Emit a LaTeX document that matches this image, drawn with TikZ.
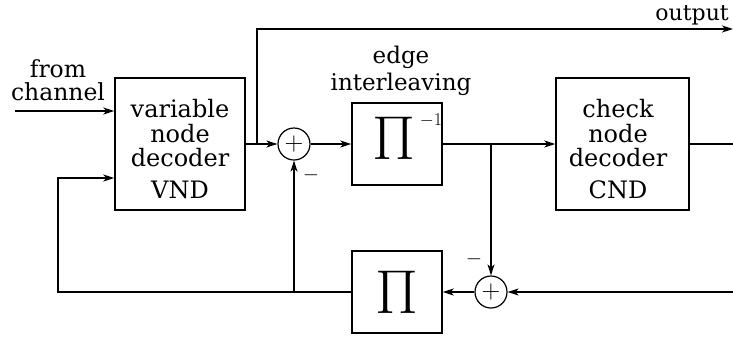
\RequirePackage{fix-cm}
\documentclass[tikz,border=0pt]{standalone}
\usepackage{fontspec}
\setmainfont{DejaVu Serif}
\usetikzlibrary{arrows.meta,calc}
\begin{document}
\begin{tikzpicture}[x=1pt,y=-1pt,
  blk/.style={draw,line width=1.4pt,inner sep=0pt},
  txt/.style={align=center,inner sep=0pt,font=\fontsize{24}{24.5}\selectfont},
  sumnode/.style={draw,circle,line width=1.2pt,minimum size=32pt,inner sep=0pt,font=\fontsize{26}{26}\selectfont},
  bigpi/.style={inner sep=0pt,font=\fontsize{62}{62}\selectfont},
  minus/.style={inner sep=0pt,font=\fontsize{21}{21}\selectfont},
  conn/.style={line width=1.3pt},
  arr/.style={conn,-{Stealth[length=11pt,width=7pt,inset=3pt]}}]
\useasboundingbox (0,0) rectangle (733,338);

% blocks
\node[blk,minimum width=130pt,minimum height=132pt] (vnd) at (180,144) {};
\node[txt] (vndtext) at (180,149) {variable\\node\\decoder\\[7pt]VND};
\node[blk,minimum width=133pt,minimum height=132pt] (cnd) at (622.5,144) {};
\node[txt] (cndtext) at (618,149) {check\\node\\decoder\\[7pt]CND};
\node[blk,minimum width=90pt,minimum height=82pt] (pinv) at (397,144) {};
\node[bigpi] (pinvsym) at (394,138.5) {$\Pi$};
\node[inner sep=0pt,font=\fontsize{18}{18}\selectfont] (pinvexp) at (431,120) {$-1$};
\node[blk,minimum width=90pt,minimum height=82pt,bigpi] (pi) at (397,292) {$\Pi$};

% adders
\node[sumnode] (add1) at (294,144) {$+$};
\node[sumnode] (add2) at (491,292) {$+$};
\node[minus] (m1) at (311,175) {$-$};
\node[minus] (m2) at (474,259) {$-$};

% labels
\node[txt,anchor=south,font=\fontsize{23.5}{23}\selectfont] (from) at (58,101) {from\\channel};
\node[txt,anchor=south,font=\fontsize{23}{27}\selectfont] (edge) at (401,96) {edge\\interleaving};
\node[txt,anchor=base east,font=\fontsize{22}{22}\selectfont] (outlbl) at (729,20) {output};

% coordinates
\coordinate (in) at (15,111);
\coordinate (br1) at (257,144);
\coordinate (outend) at (733,29);
\coordinate (br2) at (491,144);
\coordinate (cndout) at (733,144);
\coordinate (fbin) at (733,292);
\coordinate (br3) at (294,292);
\coordinate (fbcorner) at (58,178);

% connectors
\draw[arr] (in) -- (in -| vnd.west);
\draw[arr] (vnd.east) -- (add1.west);
\draw[arr] (br1) |- (outend);
\draw[arr] (add1.east) -- (pinv.west);
\draw[arr] (pinv.east) -- (cnd.west);
\draw[arr] (br2) -- (add2.north);
\draw[conn] (cnd.east) -- (cndout);
\draw[arr] (fbin) -- (add2.east);
\draw[arr] (add2.west) -- (pi.east);
\draw[arr] (pi.west) -| (fbcorner) -- (fbcorner -| vnd.west);
\draw[arr] (br3) -- (add1.south);
\end{tikzpicture}
\end{document}
